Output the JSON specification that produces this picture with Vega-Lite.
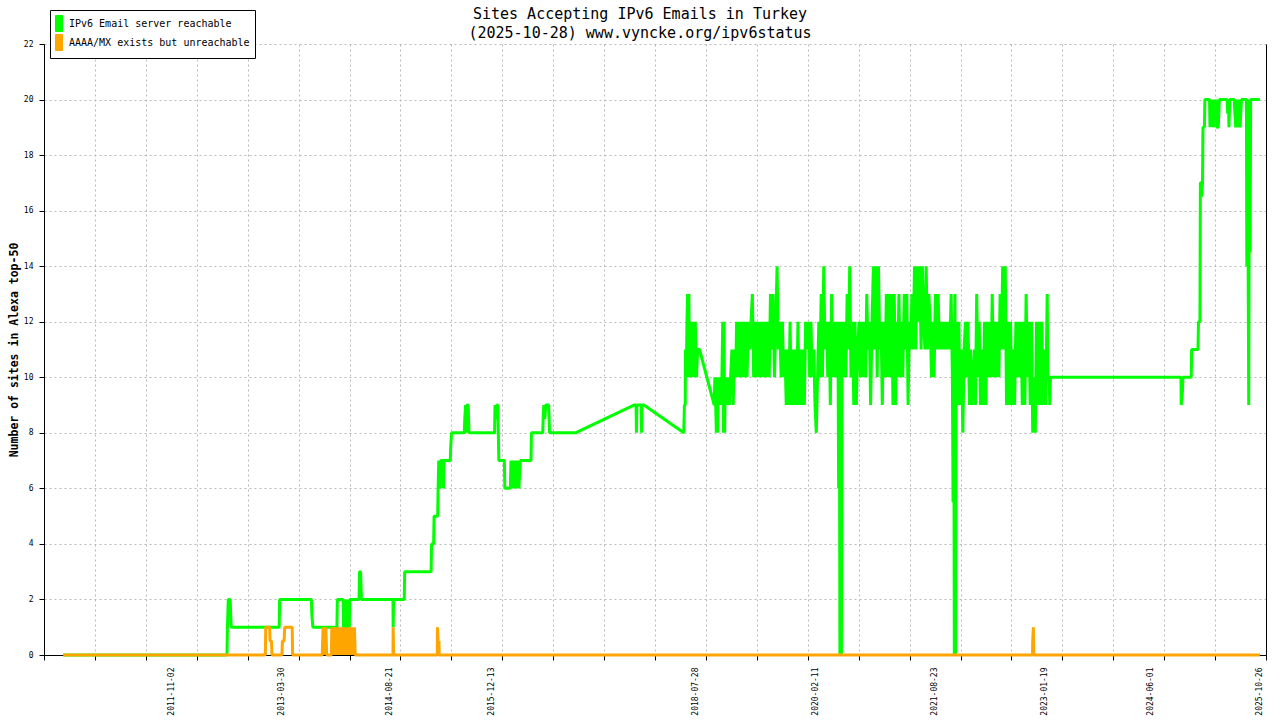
{
  "$schema": "https://vega.github.io/schema/vega-lite/v6.json",
  "width": 1222,
  "height": 611,
  "autosize": {"type": "none"},
  "padding": {"left": 44, "top": 44, "right": 14, "bottom": 65},
  "background": "white",
  "title": {
    "text": ["Sites Accepting IPv6 Emails in Turkey", "(2025-10-28) www.vyncke.org/ipv6status"],
    "font": "DejaVu Sans Mono",
    "fontSize": 15,
    "fontWeight": "normal",
    "color": "black",
    "lineHeight": 19,
    "anchor": "middle",
    "dx": -15,
    "dy": 35,
    "offset": 4
  },
  "datasets": {
    "reachable": [
      {"date": "2010-06-11", "sites": 0},
      {"date": "2012-07-18", "sites": 0},
      {"date": "2012-07-20", "sites": 1},
      {"date": "2012-07-24", "sites": 2},
      {"date": "2012-08-02", "sites": 2},
      {"date": "2012-08-04", "sites": 1.5},
      {"date": "2012-08-07", "sites": 1},
      {"date": "2013-03-20", "sites": 1},
      {"date": "2013-03-22", "sites": 2},
      {"date": "2013-08-18", "sites": 2},
      {"date": "2013-08-20", "sites": 1.5},
      {"date": "2013-08-25", "sites": 1},
      {"date": "2013-12-16", "sites": 1},
      {"date": "2013-12-18", "sites": 2},
      {"date": "2014-01-14", "sites": 2},
      {"date": "2014-01-16", "sites": 1},
      {"date": "2014-01-19", "sites": 2},
      {"date": "2014-01-22", "sites": 0},
      {"date": "2014-01-25", "sites": 2},
      {"date": "2014-01-28", "sites": 1},
      {"date": "2014-02-01", "sites": 2},
      {"date": "2014-02-05", "sites": 0},
      {"date": "2014-02-09", "sites": 2},
      {"date": "2014-02-12", "sites": 1},
      {"date": "2014-02-14", "sites": 2},
      {"date": "2014-03-30", "sites": 2},
      {"date": "2014-04-01", "sites": 3},
      {"date": "2014-04-06", "sites": 3},
      {"date": "2014-04-08", "sites": 2.5},
      {"date": "2014-04-10", "sites": 2},
      {"date": "2014-09-05", "sites": 2},
      {"date": "2014-09-06", "sites": 1},
      {"date": "2014-09-08", "sites": 2},
      {"date": "2014-10-28", "sites": 2},
      {"date": "2014-10-30", "sites": 3},
      {"date": "2015-03-03", "sites": 3},
      {"date": "2015-03-05", "sites": 4},
      {"date": "2015-03-15", "sites": 4},
      {"date": "2015-03-17", "sites": 5},
      {"date": "2015-04-03", "sites": 5},
      {"date": "2015-04-05", "sites": 6},
      {"date": "2015-04-08", "sites": 7},
      {"date": "2015-04-14", "sites": 6},
      {"date": "2015-04-17", "sites": 7},
      {"date": "2015-04-28", "sites": 7},
      {"date": "2015-04-30", "sites": 6},
      {"date": "2015-05-02", "sites": 7},
      {"date": "2015-06-01", "sites": 7},
      {"date": "2015-06-03", "sites": 7.5},
      {"date": "2015-06-07", "sites": 8},
      {"date": "2015-08-06", "sites": 8},
      {"date": "2015-08-08", "sites": 8.5},
      {"date": "2015-08-12", "sites": 9},
      {"date": "2015-08-15", "sites": 8},
      {"date": "2015-08-18", "sites": 9},
      {"date": "2015-08-24", "sites": 9},
      {"date": "2015-08-28", "sites": 8},
      {"date": "2015-12-26", "sites": 8},
      {"date": "2015-12-28", "sites": 9},
      {"date": "2016-01-02", "sites": 8.5},
      {"date": "2016-01-06", "sites": 9},
      {"date": "2016-01-10", "sites": 9},
      {"date": "2016-01-15", "sites": 7},
      {"date": "2016-02-10", "sites": 7},
      {"date": "2016-02-12", "sites": 6},
      {"date": "2016-03-09", "sites": 6},
      {"date": "2016-03-12", "sites": 7},
      {"date": "2016-03-16", "sites": 6},
      {"date": "2016-03-20", "sites": 7},
      {"date": "2016-03-26", "sites": 6},
      {"date": "2016-04-01", "sites": 7},
      {"date": "2016-04-06", "sites": 6},
      {"date": "2016-04-12", "sites": 7},
      {"date": "2016-04-18", "sites": 6},
      {"date": "2016-04-25", "sites": 7},
      {"date": "2016-06-14", "sites": 7},
      {"date": "2016-06-16", "sites": 8},
      {"date": "2016-08-08", "sites": 8},
      {"date": "2016-08-10", "sites": 8.5},
      {"date": "2016-08-13", "sites": 9},
      {"date": "2016-08-18", "sites": 8.5},
      {"date": "2016-08-22", "sites": 9},
      {"date": "2016-09-05", "sites": 9},
      {"date": "2016-09-09", "sites": 8},
      {"date": "2017-01-09", "sites": 8},
      {"date": "2017-10-10", "sites": 9},
      {"date": "2017-10-20", "sites": 9},
      {"date": "2017-10-22", "sites": 8},
      {"date": "2017-10-24", "sites": 9},
      {"date": "2017-11-13", "sites": 9},
      {"date": "2017-11-15", "sites": 8},
      {"date": "2017-11-17", "sites": 9},
      {"date": "2017-11-26", "sites": 9},
      {"date": "2018-06-01", "sites": 8},
      {"date": "2018-06-04", "sites": 9},
      {"date": "2018-06-08", "sites": 9},
      {"date": "2018-06-09", "sites": 11},
      {"date": "2018-06-13", "sites": 10},
      {"date": "2018-06-16", "sites": 12},
      {"date": "2018-06-19", "sites": 13},
      {"date": "2018-06-22", "sites": 10},
      {"date": "2018-06-25", "sites": 13},
      {"date": "2018-06-28", "sites": 10},
      {"date": "2018-07-01", "sites": 12},
      {"date": "2018-07-07", "sites": 10},
      {"date": "2018-07-13", "sites": 12},
      {"date": "2018-07-19", "sites": 10},
      {"date": "2018-07-25", "sites": 12},
      {"date": "2018-07-31", "sites": 10},
      {"date": "2018-08-05", "sites": 11},
      {"date": "2018-08-14", "sites": 11},
      {"date": "2018-10-22", "sites": 9},
      {"date": "2018-10-25", "sites": 10},
      {"date": "2018-10-29", "sites": 9},
      {"date": "2018-11-01", "sites": 8},
      {"date": "2018-11-04", "sites": 10},
      {"date": "2018-11-07", "sites": 8},
      {"date": "2018-11-10", "sites": 10},
      {"date": "2018-11-13", "sites": 9},
      {"date": "2018-11-19", "sites": 10},
      {"date": "2018-11-25", "sites": 9},
      {"date": "2018-12-01", "sites": 12},
      {"date": "2018-12-04", "sites": 8},
      {"date": "2018-12-07", "sites": 12},
      {"date": "2018-12-10", "sites": 8},
      {"date": "2018-12-13", "sites": 10},
      {"date": "2018-12-19", "sites": 9},
      {"date": "2018-12-25", "sites": 10},
      {"date": "2019-01-01", "sites": 9},
      {"date": "2019-01-07", "sites": 10},
      {"date": "2019-01-13", "sites": 11},
      {"date": "2019-01-19", "sites": 9},
      {"date": "2019-01-25", "sites": 11},
      {"date": "2019-01-31", "sites": 10},
      {"date": "2019-02-04", "sites": 12},
      {"date": "2019-02-07", "sites": 10},
      {"date": "2019-02-13", "sites": 12},
      {"date": "2019-02-19", "sites": 10},
      {"date": "2019-02-25", "sites": 12},
      {"date": "2019-03-01", "sites": 10},
      {"date": "2019-03-07", "sites": 12},
      {"date": "2019-03-13", "sites": 10},
      {"date": "2019-03-19", "sites": 12},
      {"date": "2019-03-25", "sites": 10},
      {"date": "2019-04-01", "sites": 12},
      {"date": "2019-04-07", "sites": 11},
      {"date": "2019-04-13", "sites": 12},
      {"date": "2019-04-19", "sites": 13},
      {"date": "2019-04-25", "sites": 10},
      {"date": "2019-05-01", "sites": 12},
      {"date": "2019-05-07", "sites": 10},
      {"date": "2019-05-13", "sites": 12},
      {"date": "2019-05-19", "sites": 10},
      {"date": "2019-05-25", "sites": 12},
      {"date": "2019-06-01", "sites": 10},
      {"date": "2019-06-07", "sites": 12},
      {"date": "2019-06-13", "sites": 10},
      {"date": "2019-06-19", "sites": 12},
      {"date": "2019-06-25", "sites": 10},
      {"date": "2019-07-01", "sites": 12},
      {"date": "2019-07-07", "sites": 10},
      {"date": "2019-07-13", "sites": 13},
      {"date": "2019-07-19", "sites": 11},
      {"date": "2019-07-25", "sites": 13},
      {"date": "2019-08-01", "sites": 10},
      {"date": "2019-08-07", "sites": 12},
      {"date": "2019-08-13", "sites": 14},
      {"date": "2019-08-19", "sites": 11},
      {"date": "2019-08-25", "sites": 12},
      {"date": "2019-09-01", "sites": 10},
      {"date": "2019-09-07", "sites": 12},
      {"date": "2019-09-13", "sites": 10},
      {"date": "2019-09-19", "sites": 11},
      {"date": "2019-09-25", "sites": 9},
      {"date": "2019-10-01", "sites": 11},
      {"date": "2019-10-07", "sites": 9},
      {"date": "2019-10-13", "sites": 12},
      {"date": "2019-10-19", "sites": 9},
      {"date": "2019-10-25", "sites": 11},
      {"date": "2019-11-01", "sites": 9},
      {"date": "2019-11-07", "sites": 11},
      {"date": "2019-11-13", "sites": 9},
      {"date": "2019-11-19", "sites": 12},
      {"date": "2019-11-25", "sites": 9},
      {"date": "2019-12-01", "sites": 11},
      {"date": "2019-12-07", "sites": 9},
      {"date": "2019-12-13", "sites": 11},
      {"date": "2019-12-19", "sites": 9},
      {"date": "2019-12-25", "sites": 12},
      {"date": "2020-01-01", "sites": 11},
      {"date": "2020-01-07", "sites": 12},
      {"date": "2020-01-13", "sites": 10},
      {"date": "2020-01-19", "sites": 12},
      {"date": "2020-01-25", "sites": 10},
      {"date": "2020-02-01", "sites": 11},
      {"date": "2020-02-07", "sites": 9},
      {"date": "2020-02-13", "sites": 8},
      {"date": "2020-02-19", "sites": 10},
      {"date": "2020-02-25", "sites": 12},
      {"date": "2020-03-01", "sites": 10},
      {"date": "2020-03-07", "sites": 13},
      {"date": "2020-03-13", "sites": 10},
      {"date": "2020-03-19", "sites": 14},
      {"date": "2020-03-25", "sites": 11},
      {"date": "2020-04-01", "sites": 12},
      {"date": "2020-04-07", "sites": 10},
      {"date": "2020-04-13", "sites": 12},
      {"date": "2020-04-19", "sites": 9},
      {"date": "2020-04-25", "sites": 13},
      {"date": "2020-05-01", "sites": 10},
      {"date": "2020-05-07", "sites": 12},
      {"date": "2020-05-13", "sites": 10},
      {"date": "2020-05-19", "sites": 12},
      {"date": "2020-05-25", "sites": 11},
      {"date": "2020-05-28", "sites": 6},
      {"date": "2020-05-31", "sites": 12},
      {"date": "2020-06-03", "sites": 0},
      {"date": "2020-06-07", "sites": 11},
      {"date": "2020-06-10", "sites": 0},
      {"date": "2020-06-13", "sites": 12},
      {"date": "2020-06-19", "sites": 10},
      {"date": "2020-06-25", "sites": 12},
      {"date": "2020-07-01", "sites": 10},
      {"date": "2020-07-07", "sites": 13},
      {"date": "2020-07-13", "sites": 11},
      {"date": "2020-07-19", "sites": 14},
      {"date": "2020-07-25", "sites": 10},
      {"date": "2020-08-01", "sites": 12},
      {"date": "2020-08-07", "sites": 9},
      {"date": "2020-08-13", "sites": 12},
      {"date": "2020-08-19", "sites": 9},
      {"date": "2020-08-25", "sites": 11},
      {"date": "2020-09-01", "sites": 12},
      {"date": "2020-09-07", "sites": 10},
      {"date": "2020-09-13", "sites": 12},
      {"date": "2020-09-19", "sites": 10},
      {"date": "2020-09-25", "sites": 12},
      {"date": "2020-10-01", "sites": 10},
      {"date": "2020-10-07", "sites": 13},
      {"date": "2020-10-13", "sites": 11},
      {"date": "2020-10-19", "sites": 12},
      {"date": "2020-10-25", "sites": 9},
      {"date": "2020-11-01", "sites": 12},
      {"date": "2020-11-07", "sites": 14},
      {"date": "2020-11-13", "sites": 11},
      {"date": "2020-11-19", "sites": 14},
      {"date": "2020-11-25", "sites": 10},
      {"date": "2020-12-01", "sites": 14},
      {"date": "2020-12-07", "sites": 11},
      {"date": "2020-12-13", "sites": 12},
      {"date": "2020-12-19", "sites": 9},
      {"date": "2020-12-25", "sites": 12},
      {"date": "2021-01-01", "sites": 10},
      {"date": "2021-01-07", "sites": 13},
      {"date": "2021-01-13", "sites": 10},
      {"date": "2021-01-19", "sites": 13},
      {"date": "2021-01-25", "sites": 10},
      {"date": "2021-02-01", "sites": 13},
      {"date": "2021-02-07", "sites": 9},
      {"date": "2021-02-13", "sites": 13},
      {"date": "2021-02-19", "sites": 9},
      {"date": "2021-02-25", "sites": 12},
      {"date": "2021-03-01", "sites": 10},
      {"date": "2021-03-07", "sites": 13},
      {"date": "2021-03-13", "sites": 10},
      {"date": "2021-03-19", "sites": 12},
      {"date": "2021-03-25", "sites": 10},
      {"date": "2021-04-01", "sites": 13},
      {"date": "2021-04-07", "sites": 11},
      {"date": "2021-04-13", "sites": 13},
      {"date": "2021-04-19", "sites": 9},
      {"date": "2021-04-25", "sites": 12},
      {"date": "2021-05-01", "sites": 11},
      {"date": "2021-05-07", "sites": 13},
      {"date": "2021-05-13", "sites": 11},
      {"date": "2021-05-19", "sites": 14},
      {"date": "2021-05-25", "sites": 11},
      {"date": "2021-06-01", "sites": 14},
      {"date": "2021-06-07", "sites": 12},
      {"date": "2021-06-13", "sites": 14},
      {"date": "2021-06-19", "sites": 11},
      {"date": "2021-06-25", "sites": 14},
      {"date": "2021-07-01", "sites": 12},
      {"date": "2021-07-07", "sites": 11},
      {"date": "2021-07-13", "sites": 14},
      {"date": "2021-07-19", "sites": 11},
      {"date": "2021-07-25", "sites": 13},
      {"date": "2021-08-01", "sites": 12},
      {"date": "2021-08-07", "sites": 10},
      {"date": "2021-08-13", "sites": 12},
      {"date": "2021-08-19", "sites": 10},
      {"date": "2021-08-25", "sites": 13},
      {"date": "2021-09-01", "sites": 11},
      {"date": "2021-09-07", "sites": 13},
      {"date": "2021-09-13", "sites": 11},
      {"date": "2021-09-19", "sites": 12},
      {"date": "2021-09-25", "sites": 11},
      {"date": "2021-10-01", "sites": 12},
      {"date": "2021-10-07", "sites": 11},
      {"date": "2021-10-13", "sites": 12},
      {"date": "2021-10-19", "sites": 11},
      {"date": "2021-10-25", "sites": 12},
      {"date": "2021-11-01", "sites": 11},
      {"date": "2021-11-07", "sites": 13},
      {"date": "2021-11-13", "sites": 10},
      {"date": "2021-11-16", "sites": 5.5},
      {"date": "2021-11-19", "sites": 12},
      {"date": "2021-11-22", "sites": 0},
      {"date": "2021-11-25", "sites": 13},
      {"date": "2021-11-28", "sites": 0},
      {"date": "2021-12-01", "sites": 12},
      {"date": "2021-12-07", "sites": 9},
      {"date": "2021-12-13", "sites": 12},
      {"date": "2021-12-19", "sites": 9},
      {"date": "2021-12-25", "sites": 11},
      {"date": "2022-01-01", "sites": 8},
      {"date": "2022-01-07", "sites": 11},
      {"date": "2022-01-13", "sites": 12},
      {"date": "2022-01-19", "sites": 10},
      {"date": "2022-01-25", "sites": 12},
      {"date": "2022-02-01", "sites": 9},
      {"date": "2022-02-07", "sites": 11},
      {"date": "2022-02-13", "sites": 9},
      {"date": "2022-02-19", "sites": 10},
      {"date": "2022-02-25", "sites": 11},
      {"date": "2022-03-01", "sites": 9},
      {"date": "2022-03-07", "sites": 13},
      {"date": "2022-03-13", "sites": 10},
      {"date": "2022-03-19", "sites": 12},
      {"date": "2022-03-25", "sites": 9},
      {"date": "2022-04-01", "sites": 11},
      {"date": "2022-04-07", "sites": 9},
      {"date": "2022-04-13", "sites": 12},
      {"date": "2022-04-19", "sites": 9},
      {"date": "2022-04-25", "sites": 12},
      {"date": "2022-05-01", "sites": 10},
      {"date": "2022-05-07", "sites": 12},
      {"date": "2022-05-13", "sites": 10},
      {"date": "2022-05-19", "sites": 13},
      {"date": "2022-05-25", "sites": 10},
      {"date": "2022-06-01", "sites": 12},
      {"date": "2022-06-07", "sites": 10},
      {"date": "2022-06-13", "sites": 12},
      {"date": "2022-06-19", "sites": 10},
      {"date": "2022-06-25", "sites": 13},
      {"date": "2022-07-01", "sites": 11},
      {"date": "2022-07-07", "sites": 14},
      {"date": "2022-07-13", "sites": 11},
      {"date": "2022-07-19", "sites": 14},
      {"date": "2022-07-25", "sites": 9},
      {"date": "2022-08-01", "sites": 12},
      {"date": "2022-08-07", "sites": 9},
      {"date": "2022-08-13", "sites": 12},
      {"date": "2022-08-19", "sites": 9},
      {"date": "2022-08-25", "sites": 11},
      {"date": "2022-09-01", "sites": 9},
      {"date": "2022-09-07", "sites": 12},
      {"date": "2022-09-13", "sites": 10},
      {"date": "2022-09-19", "sites": 12},
      {"date": "2022-09-25", "sites": 10},
      {"date": "2022-10-01", "sites": 12},
      {"date": "2022-10-07", "sites": 9},
      {"date": "2022-10-13", "sites": 12},
      {"date": "2022-10-19", "sites": 9},
      {"date": "2022-10-25", "sites": 13},
      {"date": "2022-11-01", "sites": 10},
      {"date": "2022-11-07", "sites": 12},
      {"date": "2022-11-13", "sites": 9},
      {"date": "2022-11-19", "sites": 12},
      {"date": "2022-11-25", "sites": 8},
      {"date": "2022-12-01", "sites": 10},
      {"date": "2022-12-07", "sites": 8},
      {"date": "2022-12-13", "sites": 12},
      {"date": "2022-12-19", "sites": 9},
      {"date": "2022-12-25", "sites": 12},
      {"date": "2023-01-01", "sites": 9},
      {"date": "2023-01-07", "sites": 12},
      {"date": "2023-01-13", "sites": 9},
      {"date": "2023-01-19", "sites": 11},
      {"date": "2023-01-25", "sites": 9},
      {"date": "2023-02-01", "sites": 13},
      {"date": "2023-02-04", "sites": 10},
      {"date": "2023-02-10", "sites": 10},
      {"date": "2023-02-13", "sites": 9},
      {"date": "2023-02-16", "sites": 10},
      {"date": "2024-10-21", "sites": 10},
      {"date": "2024-10-22", "sites": 9},
      {"date": "2024-10-28", "sites": 9.5},
      {"date": "2024-10-30", "sites": 10},
      {"date": "2024-12-08", "sites": 10},
      {"date": "2024-12-10", "sites": 11},
      {"date": "2025-01-09", "sites": 11},
      {"date": "2025-01-11", "sites": 12},
      {"date": "2025-01-18", "sites": 12},
      {"date": "2025-01-20", "sites": 17},
      {"date": "2025-01-24", "sites": 17},
      {"date": "2025-01-26", "sites": 16.5},
      {"date": "2025-01-30", "sites": 17},
      {"date": "2025-02-01", "sites": 19},
      {"date": "2025-02-08", "sites": 19},
      {"date": "2025-02-10", "sites": 20},
      {"date": "2025-03-04", "sites": 20},
      {"date": "2025-03-06", "sites": 19},
      {"date": "2025-03-10", "sites": 20},
      {"date": "2025-03-14", "sites": 19},
      {"date": "2025-03-18", "sites": 20},
      {"date": "2025-03-22", "sites": 19},
      {"date": "2025-03-27", "sites": 20},
      {"date": "2025-03-30", "sites": 19.5},
      {"date": "2025-04-05", "sites": 20},
      {"date": "2025-04-07", "sites": 19},
      {"date": "2025-04-14", "sites": 19},
      {"date": "2025-04-19", "sites": 20},
      {"date": "2025-05-26", "sites": 20},
      {"date": "2025-05-28", "sites": 19.5},
      {"date": "2025-06-01", "sites": 20},
      {"date": "2025-06-03", "sites": 19},
      {"date": "2025-06-07", "sites": 20},
      {"date": "2025-06-28", "sites": 20},
      {"date": "2025-07-01", "sites": 19.5},
      {"date": "2025-07-05", "sites": 19},
      {"date": "2025-07-10", "sites": 20},
      {"date": "2025-07-15", "sites": 19},
      {"date": "2025-07-20", "sites": 20},
      {"date": "2025-07-25", "sites": 19},
      {"date": "2025-08-01", "sites": 20},
      {"date": "2025-08-24", "sites": 20},
      {"date": "2025-08-26", "sites": 14},
      {"date": "2025-08-29", "sites": 20},
      {"date": "2025-09-01", "sites": 14.5},
      {"date": "2025-09-04", "sites": 9},
      {"date": "2025-09-07", "sites": 20},
      {"date": "2025-09-10", "sites": 14.5},
      {"date": "2025-09-13", "sites": 20},
      {"date": "2025-10-26", "sites": 20}
    ],
    "unreachable": [
      {"date": "2010-06-11", "sites": 0},
      {"date": "2013-01-14", "sites": 0},
      {"date": "2013-01-16", "sites": 1},
      {"date": "2013-02-03", "sites": 1},
      {"date": "2013-02-05", "sites": 0.5},
      {"date": "2013-02-12", "sites": 0.5},
      {"date": "2013-02-14", "sites": 0},
      {"date": "2013-04-02", "sites": 0},
      {"date": "2013-04-04", "sites": 0.5},
      {"date": "2013-04-12", "sites": 0.5},
      {"date": "2013-04-15", "sites": 1},
      {"date": "2013-05-20", "sites": 1},
      {"date": "2013-05-22", "sites": 0},
      {"date": "2013-10-08", "sites": 0},
      {"date": "2013-10-10", "sites": 0.5},
      {"date": "2013-10-12", "sites": 1},
      {"date": "2013-10-15", "sites": 0},
      {"date": "2013-10-19", "sites": 1},
      {"date": "2013-10-22", "sites": 0},
      {"date": "2013-10-25", "sites": 1},
      {"date": "2013-10-29", "sites": 0},
      {"date": "2013-11-20", "sites": 0},
      {"date": "2013-11-22", "sites": 1},
      {"date": "2013-11-25", "sites": 0},
      {"date": "2013-11-28", "sites": 1},
      {"date": "2013-12-01", "sites": 0},
      {"date": "2013-12-04", "sites": 1},
      {"date": "2013-12-07", "sites": 0},
      {"date": "2013-12-10", "sites": 1},
      {"date": "2013-12-13", "sites": 0},
      {"date": "2013-12-16", "sites": 1},
      {"date": "2013-12-19", "sites": 0},
      {"date": "2013-12-22", "sites": 1},
      {"date": "2013-12-25", "sites": 0},
      {"date": "2013-12-28", "sites": 1},
      {"date": "2013-12-31", "sites": 0},
      {"date": "2014-01-03", "sites": 1},
      {"date": "2014-01-06", "sites": 0},
      {"date": "2014-01-09", "sites": 1},
      {"date": "2014-01-12", "sites": 0},
      {"date": "2014-01-15", "sites": 1},
      {"date": "2014-01-18", "sites": 0},
      {"date": "2014-01-21", "sites": 1},
      {"date": "2014-01-25", "sites": 0},
      {"date": "2014-01-29", "sites": 1},
      {"date": "2014-02-02", "sites": 0},
      {"date": "2014-02-05", "sites": 1},
      {"date": "2014-02-08", "sites": 0},
      {"date": "2014-02-11", "sites": 1},
      {"date": "2014-02-14", "sites": 0},
      {"date": "2014-02-17", "sites": 1},
      {"date": "2014-02-20", "sites": 0},
      {"date": "2014-02-23", "sites": 1},
      {"date": "2014-02-26", "sites": 0},
      {"date": "2014-03-01", "sites": 1},
      {"date": "2014-03-04", "sites": 0.5},
      {"date": "2014-03-08", "sites": 1},
      {"date": "2014-03-12", "sites": 0},
      {"date": "2014-09-05", "sites": 0},
      {"date": "2014-09-06", "sites": 1},
      {"date": "2014-09-08", "sites": 0},
      {"date": "2015-04-01", "sites": 0},
      {"date": "2015-04-02", "sites": 1},
      {"date": "2015-04-05", "sites": 0.5},
      {"date": "2015-04-09", "sites": 0.5},
      {"date": "2015-04-10", "sites": 0},
      {"date": "2022-11-24", "sites": 0},
      {"date": "2022-11-25", "sites": 0.5},
      {"date": "2022-11-28", "sites": 1},
      {"date": "2022-11-30", "sites": 0},
      {"date": "2025-10-26", "sites": 0}
    ]
  },
  "layer": [
    {
      "data": {"name": "reachable"},
      "mark": {"type": "line", "strokeWidth": 3, "strokeJoin": "bevel"},
      "encoding": {
        "x": {
          "field": "date",
          "type": "temporal",
          "scale": {"type": "utc", "domain": ["2010-03-12", "2025-11-24"]},
          "axis": {
            "orient": "bottom",
            "title": null,
            "values": ["2010-03-12", "2010-11-06", "2011-07-03", "2012-02-27", "2012-10-23", "2013-06-19", "2014-02-13", "2014-10-10", "2015-06-06", "2016-01-31", "2016-09-26", "2017-05-23", "2018-01-17", "2018-09-13", "2019-05-10", "2020-01-04", "2020-08-30", "2021-04-26", "2021-12-21", "2022-08-17", "2023-04-13", "2023-12-08", "2024-08-03", "2025-03-30", "2025-11-24"],
            "labels": false,
            "ticks": true,
            "tickSize": 5,
            "tickColor": "black",
            "grid": true,
            "gridColor": "#b8b8b8",
            "gridDash": [2, 3],
            "domain": true,
            "domainColor": "black"
          }
        },
        "y": {
          "field": "sites",
          "type": "quantitative",
          "scale": {"domain": [0, 22], "nice": false},
          "axis": {
            "orient": "left",
            "title": "Number of sites in Alexa top-50",
            "titleFont": "DejaVu Sans Mono",
            "titleFontSize": 11.5,
            "titleFontWeight": "bold",
            "titleColor": "black",
            "titlePadding": 4,
            "values": [0, 2, 4, 6, 8, 10, 12, 14, 16, 18, 20, 22],
            "labelFont": "DejaVu Sans Mono",
            "labelFontSize": 8,
            "labelColor": "black",
            "labelPadding": 6,
            "tickSize": 5,
            "tickColor": "black",
            "grid": true,
            "gridColor": "#b8b8b8",
            "gridDash": [2, 3],
            "domainColor": "black"
          }
        },
        "color": {
          "datum": "IPv6 Email server reachable",
          "scale": {
            "domain": ["IPv6 Email server reachable", "AAAA/MX exists but unreachable"],
            "range": ["#00ff00", "#ffa500"]
          },
          "legend": {
            "title": null,
            "orient": "none",
            "legendX": 6,
            "legendY": -34,
            "padding": 5,
            "rowPadding": -3,
            "strokeColor": "black",
            "fillColor": "white",
            "cornerRadius": 0,
            "symbolType": "M-1,-1H-0.125V1H-1Z",
            "symbolSize": 256,
            "symbolStrokeWidth": 1,
            "labelFont": "DejaVu Sans Mono",
            "labelFontSize": 10,
            "labelColor": "black",
            "labelOffset": -3,
            "labelLimit": 400,
            "encode": {
              "symbols": {
                "update": {
                  "fill": {"scale": "color", "field": "value"},
                  "stroke": {"value": "black"},
                  "strokeWidth": {"value": 1},
                  "opacity": {"value": 1},
                  "fillOpacity": {"value": 1}
                }
              }
            }
          }
        }
      }
    },
    {
      "data": {"name": "unreachable"},
      "mark": {"type": "line", "strokeWidth": 3, "strokeJoin": "bevel"},
      "encoding": {
        "x": {
          "field": "date",
          "type": "temporal",
          "axis": {
            "orient": "bottom",
            "title": null,
            "values": ["2011-11-02", "2013-03-30", "2014-08-21", "2015-12-13", "2018-07-28", "2020-02-11", "2021-08-23", "2023-01-19", "2024-06-01", "2025-10-26"],
            "format": "%Y-%m-%d",
            "labelAngle": 270,
            "labelFont": "DejaVu Sans Mono",
            "labelFontSize": 8,
            "labelColor": "black",
            "labelPadding": 12,
            "labelOverlap": false,
            "labelFlush": false,
            "labelBound": false,
            "ticks": false,
            "grid": false,
            "domain": false
          }
        },
        "y": {
          "field": "sites",
          "type": "quantitative",
          "axis": {
            "orient": "right",
            "title": null,
            "labels": false,
            "ticks": false,
            "grid": false,
            "domain": true,
            "domainColor": "black"
          }
        },
        "color": {"datum": "AAAA/MX exists but unreachable"}
      }
    }
  ],
  "resolve": {"axis": {"x": "independent", "y": "independent"}},
  "config": {
    "font": "DejaVu Sans Mono",
    "view": {"stroke": null}
  }
}
